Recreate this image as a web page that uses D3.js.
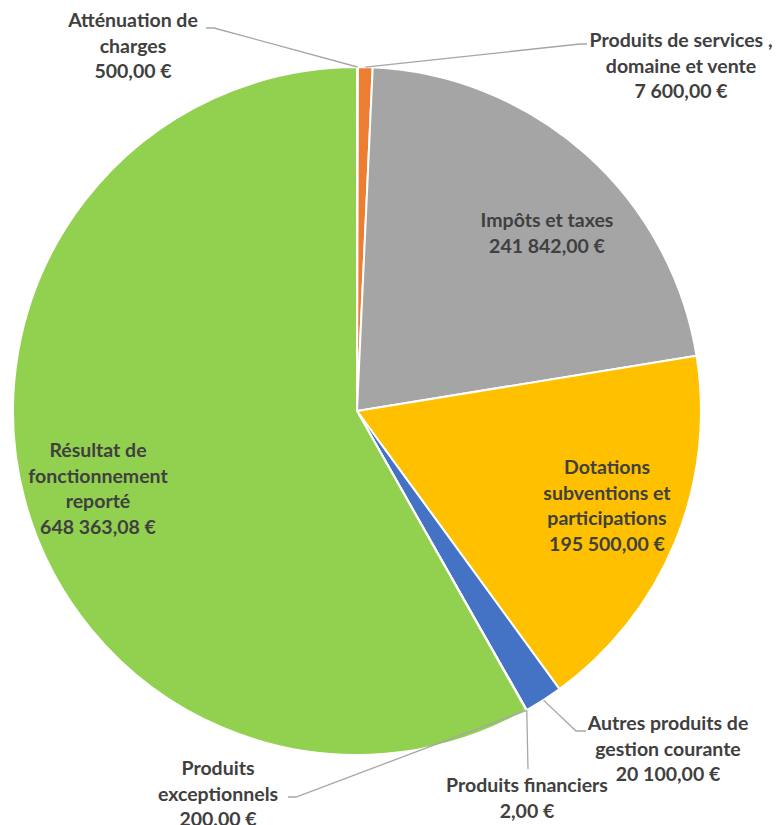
<!DOCTYPE html>
<html>
<head>
<meta charset="utf-8">
<script src="https://cdn.jsdelivr.net/npm/d3@7"></script>
<style>
  html, body { margin: 0; padding: 0; background: #fff; }
  svg text { font-family: Lato, "Open Sans", sans-serif; font-weight: 700; fill: #404040; }
</style>
</head>
<body>
<svg id="chart" width="782" height="825"></svg>
<script>
// ---- data ----
const categories = [
  "Atténuation de charges",
  "Produits de services , domaine et vente",
  "Impôts et taxes",
  "Dotations subventions et participations",
  "Autres produits de gestion courante",
  "Produits financiers",
  "Produits exceptionnels",
  "Résultat de fonctionnement reporté"
];
const values = [500, 7600, 241842, 195500, 20100, 2, 200, 648363.08];
const labelLines = [
  ["Atténuation de", "charges"],
  ["Produits de services ,", "domaine et vente"],
  ["Impôts et taxes"],
  ["Dotations", "subventions et", "participations"],
  ["Autres produits de", "gestion courante"],
  ["Produits financiers"],
  ["Produits", "exceptionnels"],
  ["Résultat de", "fonctionnement", "reporté"]
];
const colors = ["#5B9BD5", "#ED7D31", "#A5A5A5", "#FFC000", "#4472C4", "#70AD47", "#264478", "#92D050"];

// ---- layout ----
const cx = 357, cy = 411, R = 344;
const lineH = 25.8;
// label layout: center x, first-line y, and leader-line elbow (relative to page)
const layout = [
  {x: 133, y: 20, side: "outside", anchorX: 206, anchorY: 28, elbowX: 214},
  {x: 681, y: 40, side: "outside", anchorX: 587, anchorY: 44, elbowX: 580},
  {x: 547, y: 220, side: "inside"},
  {x: 607, y: 467, side: "inside"},
  {x: 668, y: 723, side: "outside", anchorX: 586, anchorY: 731, elbowX: 576},
  {x: 527, y: 785, side: "outside", anchorX: 528, anchorY: 769, elbowX: 528},
  {x: 218, y: 768, side: "outside", anchorX: 288, anchorY: 797, elbowX: 296},
  {x: 98, y: 450, side: "inside"}
];

const fmt = v => {
  const parts = v.toFixed(2).split(".");
  const intPart = parts[0].replace(/\B(?=(\d{3})+(?!\d))/g, "\u00A0");
  return intPart + "," + parts[1] + "\u00A0€";
};

const svg = d3.select("#chart");
const g = svg.append("g").attr("transform", `translate(${cx},${cy})`);

const pie = d3.pie().sort(null).value(d => d)(values);
const arc = d3.arc().innerRadius(0).outerRadius(R);

g.selectAll("path.slice")
  .data(pie)
  .join("path")
  .attr("class", "slice")
  .attr("d", arc)
  .attr("fill", (d, i) => colors[i])
  .attr("stroke", "#fff")
  .attr("stroke-width", 2)
  .attr("stroke-linejoin", "round");

// leader lines
pie.forEach((d, i) => {
  const L = layout[i];
  if (L.side !== "outside") return;
  const a = (d.startAngle + d.endAngle) / 2;
  const px = cx + R * Math.sin(a), py = cy - R * Math.cos(a);
  const pts = [[px, py], [L.elbowX, L.anchorY], [L.anchorX, L.anchorY]];
  svg.append("polyline")
    .attr("points", pts.map(p => p.join(",")).join(" "))
    .attr("fill", "none")
    .attr("stroke", "#A6A6A6")
    .attr("stroke-width", 1.3);
});

// labels
pie.forEach((d, i) => {
  const L = layout[i];
  const lines = labelLines[i].concat([fmt(values[i])]);
  const t = svg.append("text")
    .attr("text-anchor", "middle")
    .attr("font-size", 19.5);
  lines.forEach((ln, k) => {
    t.append("tspan")
      .attr("x", L.x)
      .attr("y", L.y + k * lineH)
      .attr("dy", "0.35em")
      .text(ln);
  });
});
</script>
</body>
</html>
